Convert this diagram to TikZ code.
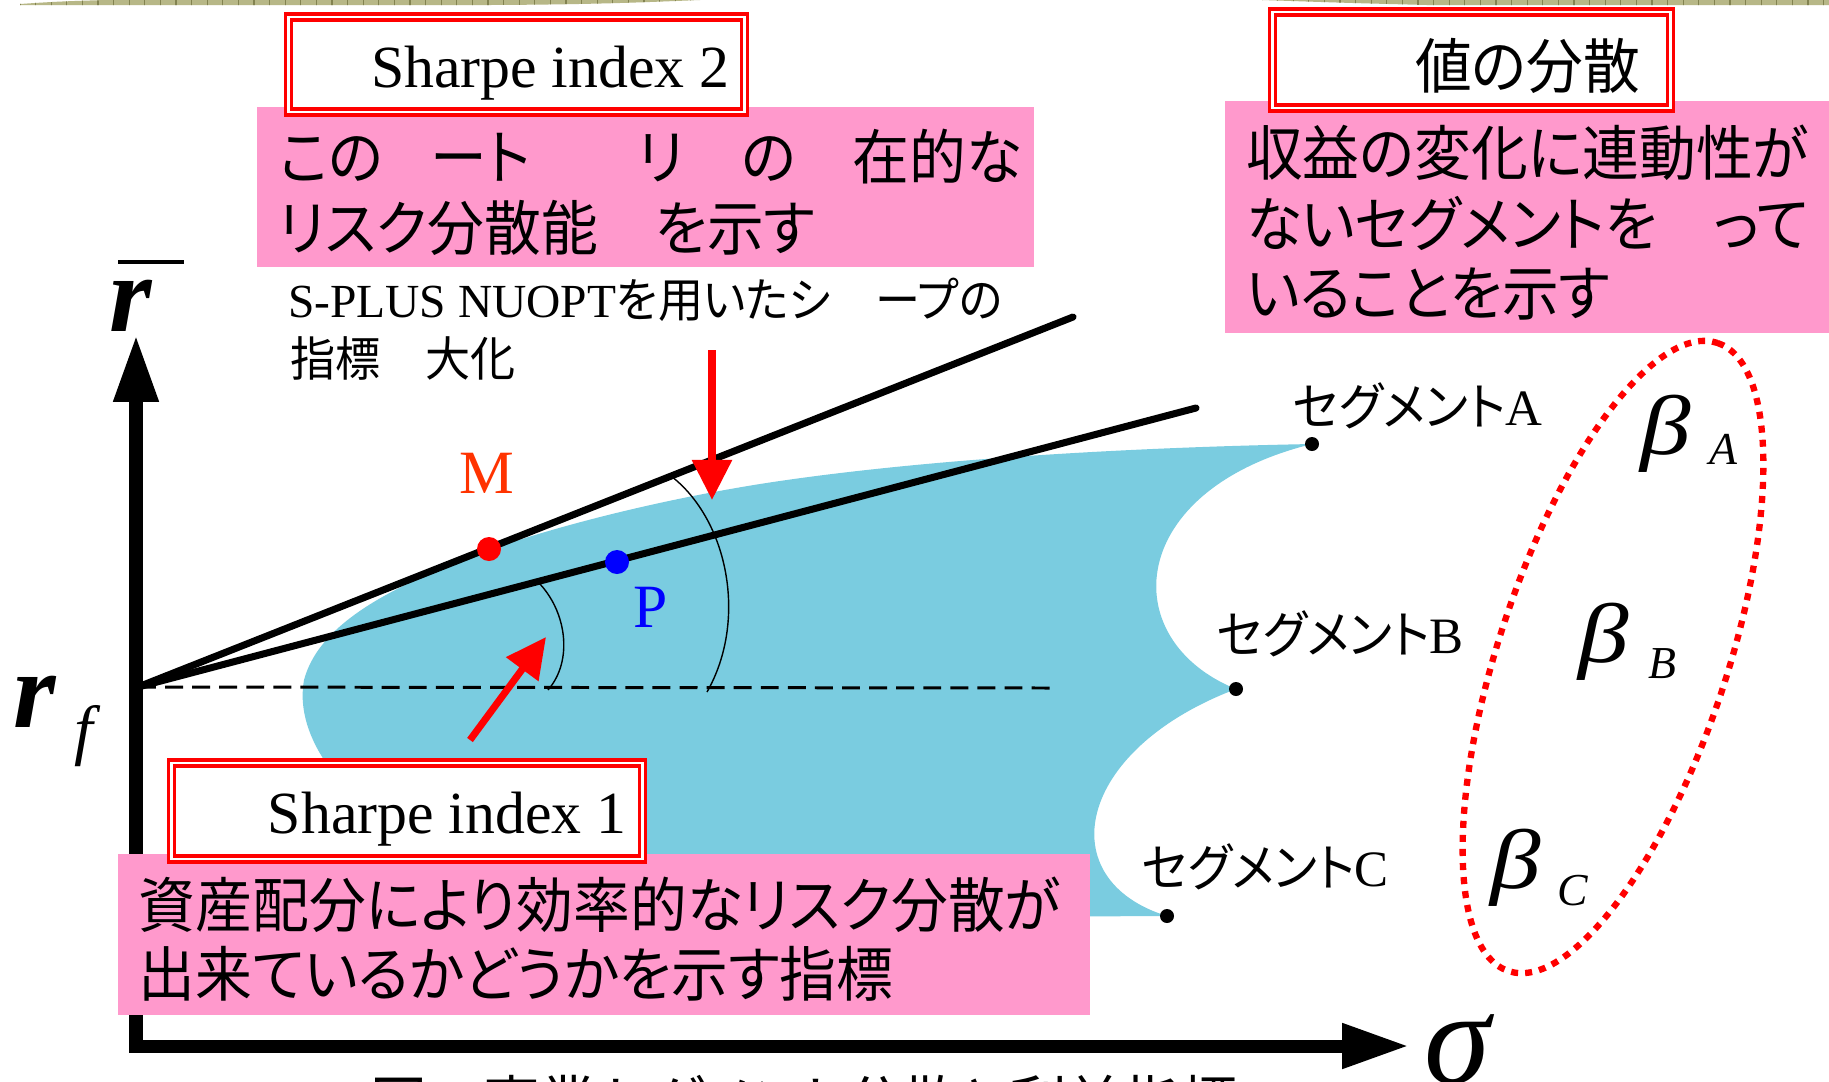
\documentclass[tikz,border=0pt]{standalone}
\usepackage{fontspec}
\setmainfont{Liberation Serif}
\newfontfamily\jp{Noto Sans CJK JP}[RawFeature=+palt, FakeStretch=0.95]
\newfontfamily\betafont{Liberation Serif}[FakeStretch=1.2]
\usetikzlibrary{arrows.meta}
\definecolor{pinkbox}{RGB}{255,153,204}
\definecolor{blobblue}{RGB}{122,204,224}
\definecolor{olivebar}{RGB}{183,183,135}
\definecolor{olivegrid}{RGB}{130,130,80}
\definecolor{mred}{RGB}{255,51,0}
\tikzset{
  titlebox/.style={draw=red, double=white, double distance=0.8pt, line width=0.9pt, fill=white, rectangle, inner sep=0pt, outer sep=0pt},
  pinkbg/.style={fill=pinkbox, rectangle, inner sep=0pt, outer sep=0pt},
  txt/.style={anchor=base west, inner sep=0pt, outer sep=0pt},
  jpL/.style={txt, font=\jp\fontsize{17pt}{20pt}\selectfont},
  jpS/.style={txt, font=\fontsize{13.5pt}{16pt}\selectfont},
  seglab/.style={txt, font=\fontsize{14.5pt}{17pt}\selectfont},
  sharpetxt/.style={txt, font=\fontsize{17pt}{20pt}\selectfont},
  ptlab/.style={txt, font=\fontsize{17.5pt}{20pt}\selectfont},
  betalab/.style={txt, font=\betafont\itshape\fontsize{24pt}{26pt}\selectfont},
  sublab/.style={txt, font=\itshape\fontsize{13pt}{15pt}\selectfont},
  bigsym/.style={txt, font=\bfseries\itshape\fontsize{31pt}{34pt}\selectfont},
  segdot/.style={circle, fill=black, minimum size=0.14cm, inner sep=0pt},
  bigdot/.style={circle, minimum size=0.24cm, inner sep=0pt},
  frontline/.style={line width=2pt, line cap=round},
  anglearc/.style={line width=0.4pt},
  redarrow/.style={red, line width=2pt, -{Triangle[length=11.4pt, width=11pt]}},
  axisline/.style={line width=3.7pt, line join=miter, {Triangle[length=19pt, width=12pt]}-{Triangle[length=19pt, width=12pt]}},
}
\begin{document}
\begin{tikzpicture}[x=0.01cm, y=-0.01cm]
\useasboundingbox (0,0) rectangle (1829,1081);
\clip (0,0) rectangle (1829,1081);
\fill[white] (0,0) rectangle (1829,1081);

% decorative top bars
\begin{scope}
  \clip (20,5) -- (490,5) .. controls (600,4.5) and (650,2) .. (700,0) -- (110,0) .. controls (60,1) and (35,3) .. (20,4) -- cycle;
  \fill[olivebar] (0,0) rectangle (720,8);
  \foreach \gx in {0,...,46} \draw[olivegrid, line width=0.3pt] (20+\gx*15.6,0) -- (20+\gx*15.6,8);
\end{scope}
\begin{scope}
  \clip (1262,0) -- (1829,0) -- (1829,5) -- (1427,5) .. controls (1350,3) .. (1262,0) -- cycle;
  \fill[olivebar] (1250,0) rectangle (1829,8);
  \foreach \gx in {0,...,38} \draw[olivegrid, line width=0.3pt] (1262+\gx*15.6,0) -- (1262+\gx*15.6,8);
\end{scope}

% key points
\coordinate (O) at (138,687);
\coordinate (T2) at (1073,317);
\coordinate (T1) at (1196,408);
\coordinate (M) at (489,549);
\coordinate (P) at (617,562);
\coordinate (A) at (1312,444);
\coordinate (B) at (1236,689);
\coordinate (C) at (1167,916);
\coordinate (D) at (1050,688);

% feasible region
\fill[blobblue] (A) .. controls (1100,448) and (900,462) .. (760,484)
  .. controls (660,500) and (560,525) .. (489,550)
  .. controls (400,583) and (320,620) .. (304,680)
  .. controls (295,730) and (330,790) .. (420,850)
  .. controls (550,910) and (900,918) .. (C)
  .. controls (1050,880) and (1075,750) .. (B)
  .. controls (1115,640) and (1125,490) .. (A) -- cycle;

% dashed r_f level
\draw[line width=0.85pt, dash pattern=on 5.1pt off 2.6pt] (O) -- (D);

% angle arcs
\draw[anglearc] (538,582) .. controls (566,610) and (574,660) .. (548,690);
\draw[anglearc] (671,476) .. controls (728,520) and (748,620) .. (707,692);

% capital market lines
\draw[frontline] (O) -- (T2);
\draw[frontline] (O) -- (T1);

% points
\node[bigdot, fill=red] (Mdot) at (M) {};
\node[bigdot, fill=blue] (Pdot) at (P) {};
\node[segdot] (Adot) at (A) {};
\node[segdot] (Bdot) at (B) {};
\node[segdot] (Cdot) at (C) {};
\node[ptlab, text=mred] (Mlab) at (459,493) {M};
\node[ptlab, text=blue] (Plab) at (633,627) {P};

% red arrows
\coordinate (R1s) at (712,350);
\coordinate (R1e) at (712,500);
\coordinate (R2s) at (470,740);
\coordinate (R2e) at (546,637);
\draw[redarrow] (R1s) -- (R1e);
\draw[redarrow] (R2s) -- (R2e);

% axes
\coordinate (Ytip) at (136,335);
\coordinate (Corner) at (136,1046);
\coordinate (Xtip) at (1409,1046);
\draw[axisline] (Ytip) -- (Corner) -- (Xtip);

% pink boxes
\node[pinkbg, minimum width=7.77cm, minimum height=1.60cm] (pinkTL) at (645.5,187) {};
\node[pinkbg, minimum width=6.25cm, minimum height=2.32cm] (pinkR) at (1537.5,217) {};
\node[pinkbg, minimum width=9.72cm, minimum height=1.61cm] (pinkB) at (604,934.5) {};

% title boxes
\node[titlebox, minimum width=4.55cm, minimum height=0.95cm] (sh2box) at (516.5,64.5) {};
\node[titlebox, minimum width=3.97cm, minimum height=0.96cm] (valbox) at (1471.5,60) {};
\node[titlebox, minimum width=4.70cm, minimum height=0.96cm] (sh1box) at (407,811) {};

\node[sharpetxt] (sh2txt) at (371,87) {Sharpe index 2};
\node[sharpetxt] (sh1txt) at (268,833) {Sharpe index 1};
\node[jpL] (valtxt) at (1415,88) {値の分散};

% pink box texts
\node[jpL] (tl1) at (279,179) {この\hspace{0.8em}ート\hspace{1.8em}リ　の　在的な};
\node[jpL] (tl2) at (279,250) {リスク分散能　を示す};
\node[jpL] (r1) at (1246,175) {収益の変化に連動性が};
\node[jpL] (r2) at (1246,246) {ないセグメントを　って};
\node[jpL] (r3) at (1246,315) {いることを示す};
\node[jpL] (b1) at (139,927) {資産配分により効率的なリスク分散が};
\node[jpL] (b2) at (139,996) {出来ているかどうかを示す指標};

% S-PLUS note
\node[jpS] (sp1) at (288,317) {S-PLUS NUOPT{\jp を用いたシ　ープの}};
\node[jpS] (sp2) at (290,376) {\jp 指標　大化};

% caption (cut off at the bottom edge)
\node[jpL] (cap) at (370,1125) {図　事業セグメント分散と利益指標};

% segment labels
\node[seglab] (segA) at (1293,425) {{\jp セグメント}A};
\node[seglab] (segB) at (1217,653) {{\jp セグメント}B};
\node[seglab] (segC) at (1142,886) {{\jp セグメント}C};

% beta group
\draw[red, line width=1.8pt, dash pattern=on 2pt off 2pt, shift={(1613,657)}, rotate=71.6] (0,0) ellipse [x radius=331, y radius=114];
\node[betalab] (bA) at (1640,454) {β};
\node[sublab] (sA) at (1709,464) {A};
\node[betalab] (bB) at (1578,662) {β};
\node[sublab] (sB) at (1648,678) {B};
\node[betalab] (bC) at (1490,888) {β};
\node[sublab] (sC) at (1557,905) {C};

% axis labels
\node[bigsym] (rbar) at (110,331) {r};
\coordinate (barL) at (118,262);
\coordinate (barR) at (184,262);
\draw[line width=1.2pt] (barL) -- (barR);
\node[bigsym] (rf) at (13,727) {r};
\node[txt, font=\itshape\fontsize{19pt}{21pt}\selectfont] (rfsub) at (74,752) {f};
\node[txt, font=\itshape\fontsize{38pt}{40pt}\selectfont] (sigma) at (1424,1083) {σ};
\end{tikzpicture}
\end{document}
